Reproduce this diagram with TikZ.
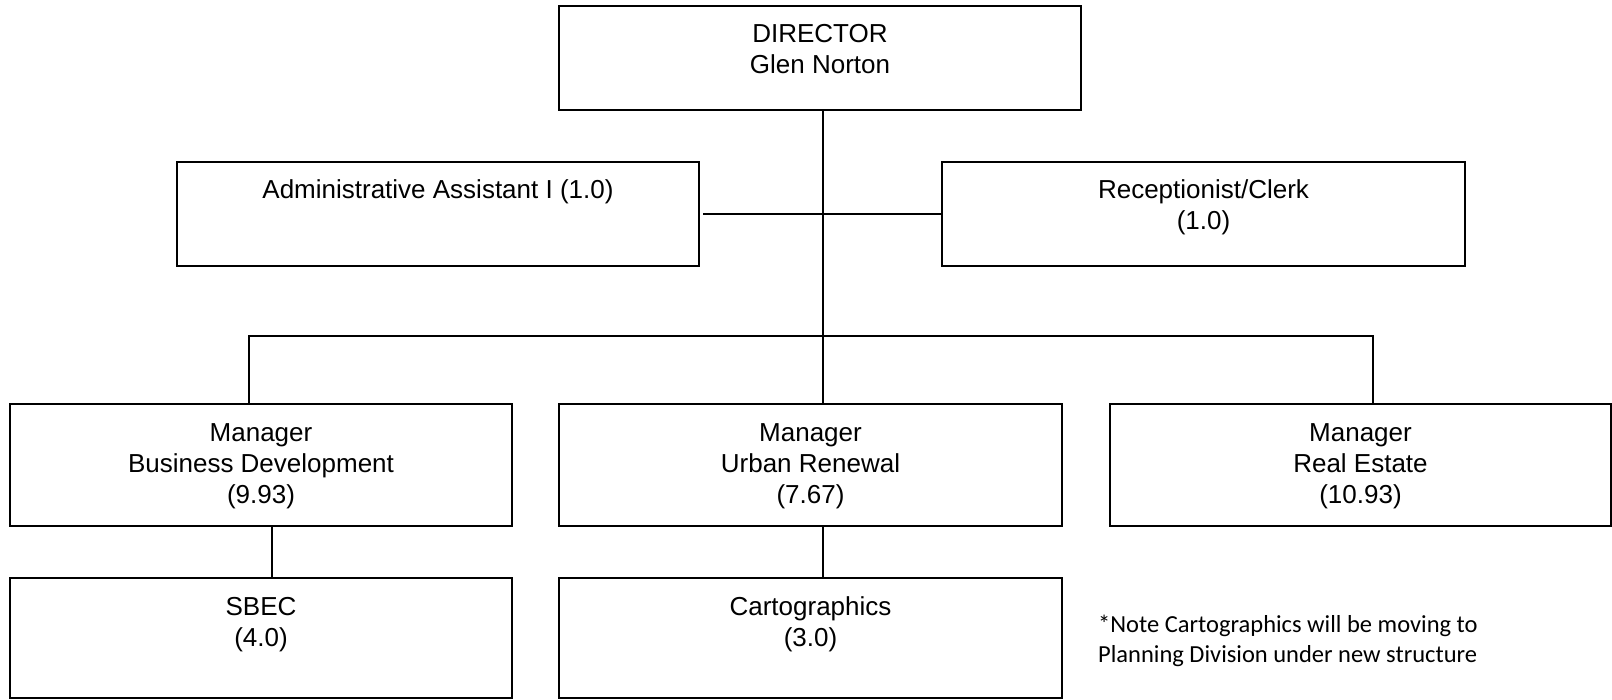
\documentclass[tikz,border=0pt]{standalone}
\usepackage{fontspec}
\setmainfont{Liberation Sans}
\newfontfamily\notefont{Carlito}
\begin{document}
\begin{tikzpicture}[x=1pt,y=-1pt,
  box/.style={draw, line width=1.8pt, inner sep=0pt, outer sep=0pt, anchor=north west},
  boxtext/.style={align=center, anchor=base, inner sep=0pt, font=\fontsize{26}{31}\selectfont},
  link/.style={line width=1.8pt},
  note/.style={align=left, anchor=base west, inner sep=0pt, font=\notefont\fontsize{24.5}{30}\selectfont}]
\fill[white] (0,0) rectangle (1612,700);
\useasboundingbox (0,0) rectangle (1612,700);

% boxes
\node[box, minimum width=522pt, minimum height=104pt] (dir) at (559,6) {};
\node[box, minimum width=522pt, minimum height=104pt] (adm) at (177,162) {};
\node[box, minimum width=523pt, minimum height=104pt] (rec) at (942,162) {};
\node[box, minimum width=502pt, minimum height=122pt] (bd) at (10,404) {};
\node[box, minimum width=503pt, minimum height=122pt] (ur) at (559,404) {};
\node[box, minimum width=501pt, minimum height=122pt] (re) at (1110,404) {};
\node[box, minimum width=502pt, minimum height=120pt] (sbec) at (10,578) {};
\node[box, minimum width=503pt, minimum height=120pt] (cart) at (559,578) {};

% box texts (base anchor sits on the last line)
\node[boxtext] (dirtext) at (820,74) {DIRECTOR\\Glen Norton};
\node[boxtext] (admtext) at (438,199) {Administrative Assistant I (1.0)};
\node[boxtext] (rectext) at (1203.5,230) {Receptionist/Clerk\\(1.0)};
\node[boxtext] (bdtext) at (261,503) {Manager\\Business Development\\(9.93)};
\node[boxtext] (urtext) at (810.5,503) {Manager\\Urban Renewal\\(7.67)};
\node[boxtext] (retext) at (1360.5,503) {Manager\\Real Estate\\(10.93)};
\node[boxtext] (sbectext) at (261,646) {SBEC\\(4.0)};
\node[boxtext] (carttext) at (810.5,646) {Cartographics\\(3.0)};

% connector positions
\coordinate (spine) at (823,0);
\coordinate (busL) at (249,336);
\coordinate (busR) at (1373,336);
\coordinate (bdx) at (272,0);

% connectors
\draw[link] (dir.south -| spine) -- (ur.north -| spine);
\draw[link] ([xshift=4pt]adm.east) -- (rec.west);
\draw[link] (bd.north -| busL) -- (busL) -- (busR) -- (re.north -| busR);
\draw[link] (bd.south -| bdx) -- (sbec.north -| bdx);
\draw[link] (ur.south -| spine) -- (cart.north -| spine);

% footnote
\node[note] (remark) at (1098,662) {*Note Cartographics will be moving to\\Planning Division under new structure};
\end{tikzpicture}
\end{document}
